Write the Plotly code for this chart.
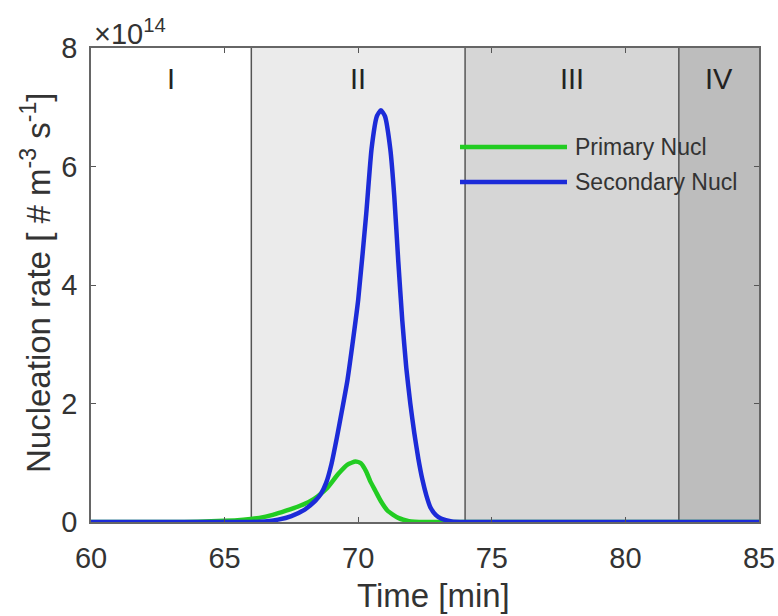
import plotly.graph_objects as go

# Data, nucleation rate in units of 1e14 # m^-3 s^-1
t_primary = [60, 63, 64, 65, 65.7, 66.3, 66.8, 67.3, 67.8, 68.2, 68.5, 68.85, 69.25, 69.6,
             69.9, 70.1, 70.3, 70.45, 70.65, 70.85, 71.1, 71.5, 71.9, 72.5, 85]
v_primary = [0, 0, 0.005, 0.02, 0.04, 0.07, 0.12, 0.19, 0.27, 0.35, 0.44, 0.58, 0.81, 0.97,
             1.02, 0.99, 0.85, 0.69, 0.52, 0.35, 0.19, 0.07, 0.015, 0, 0]

t_secondary = [60, 66, 66.5, 67, 67.5, 68, 68.2, 68.4, 68.6, 68.8, 69.0, 69.2, 69.4, 69.6,
               69.8, 70.0, 70.3, 70.5, 70.7, 70.85, 71.0, 71.2, 71.35, 71.5, 71.65, 71.8,
               71.95, 72.1, 72.25, 72.4, 72.55, 72.7, 72.9, 73.1, 73.5, 74, 85]
v_secondary = [0, 0, 0.01, 0.04, 0.1, 0.21, 0.28, 0.36, 0.47, 0.66, 0.98, 1.42, 1.9, 2.4,
               3.05, 3.75, 5.2, 6.3, 6.85, 6.95, 6.85, 6.3, 5.5, 4.4, 3.4, 2.6,
               2.0, 1.5, 1.07, 0.72, 0.45, 0.25, 0.12, 0.06, 0.01, 0, 0]

region_labels = ["I", "II", "III", "IV"]
region_bounds = [60, 66, 74, 82, 85]
region_colors = ["#ffffff", "#ebebeb", "#d6d6d6", "#bdbdbd"]

x_ticks = [60, 65, 70, 75, 80, 85]
y_ticks = [0, 2, 4, 6, 8]

series_names = ["Primary Nucl", "Secondary Nucl"]
series_colors = ["#22cc22", "#1c2bd8"]

FONT = "Liberation Sans, Arial, sans-serif"
TXT = "#333333"

W, H = 778, 616
ML, MR, MT, MB = 91, 19, 48, 94

fig = go.Figure()

shapes = []
for i in range(4):
    shapes.append(dict(type="rect", xref="x", yref="y", x0=region_bounds[i], x1=region_bounds[i + 1],
                       y0=0, y1=8, fillcolor=region_colors[i], line=dict(width=0), layer="below"))
for b in region_bounds[1:-1]:
    shapes.append(dict(type="line", xref="x", yref="y", x0=b, x1=b, y0=0, y1=8,
                       line=dict(color="#555555", width=1.5), layer="below"))

fig.add_trace(go.Scatter(x=t_primary, y=v_primary, mode="lines", name=series_names[0],
                         line=dict(color=series_colors[0], width=4.5, shape="spline", smoothing=0.5),
                         showlegend=False))
fig.add_trace(go.Scatter(x=t_secondary, y=v_secondary, mode="lines", name=series_names[1],
                         line=dict(color=series_colors[1], width=4.5, shape="spline", smoothing=0.5),
                         showlegend=False))

annotations = []
for i, lab in enumerate(region_labels):
    xc = (region_bounds[i] + region_bounds[i + 1]) / 2
    annotations.append(dict(x=xc, y=8, xref="x", yref="y", text=lab, showarrow=False,
                            yanchor="middle", yshift=-31,
                            font=dict(family=FONT, size=29, color="#222222")))

# manual legend (positions in pixels relative to plot area)
pw, ph = W - ML - MR, H - MT - MB
leg_px_y = [147 - 48, 182 - 48]
for name, col, py in zip(series_names, series_colors, leg_px_y):
    ly = 1 - py / ph
    shapes.append(dict(type="line", xref="paper", yref="paper",
                       x0=(460 - 91) / pw, x1=(567 - 91) / pw, y0=ly, y1=ly,
                       line=dict(color=col, width=4.5)))
    annotations.append(dict(x=(573 - 91) / pw, y=ly, xref="paper", yref="paper", text=name,
                            showarrow=False, xanchor="left", yanchor="middle",
                            font=dict(family=FONT, size=23, color="#333333")))

annotations.append(dict(x=0.0, y=1.0, xref="paper", yref="paper", xanchor="left", yanchor="bottom",
                        text="×10<sup>14</sup>", showarrow=False, xshift=1, yshift=-4,
                        font=dict(family=FONT, size=29, color=TXT)))

# axis titles
annotations.append(dict(x=0, y=(522 - 283) / ph, xref="paper", yref="paper", xanchor="center",
                        yanchor="middle", xshift=36 - 91, textangle=-90, showarrow=False,
                        text="Nucleation rate [ # m<sup>-3</sup> s<sup>-1</sup>]",
                        font=dict(family=FONT, size=33, color=TXT)))
annotations.append(dict(x=(433 - 91) / pw, y=0, xref="paper", yref="paper", xanchor="center",
                        yanchor="middle", yshift=-(595 - 522), showarrow=False,
                        text="Time [min]", font=dict(family=FONT, size=33, color=TXT)))

fig.update_layout(
    width=W, height=H,
    margin=dict(l=ML, r=MR, t=MT, b=MB, autoexpand=False),
    paper_bgcolor="white", plot_bgcolor="white",
    shapes=shapes, annotations=annotations,
    font=dict(family=FONT, color=TXT),
    xaxis=dict(range=[60, 85], tickvals=x_ticks, ticks="inside", ticklen=5, tickcolor="#555555",
               showgrid=False, zeroline=False, showline=True, linecolor="#666666", linewidth=1.5,
               mirror="ticks", tickfont=dict(size=29, family=FONT, color=TXT),
               ticklabelstandoff=9, automargin=False),
    yaxis=dict(range=[0, 8], tickvals=y_ticks, ticks="inside", ticklen=5, tickcolor="#555555",
               showgrid=False, zeroline=False, showline=True, linecolor="#666666", linewidth=1.5,
               mirror="ticks", tickfont=dict(size=29, family=FONT, color=TXT),
               ticklabelstandoff=6, automargin=False),
)

fig.write_html("out.html", config={"displayModeBar": False},
               post_script="document.body.style.margin='0';document.body.style.overflow='hidden';")
